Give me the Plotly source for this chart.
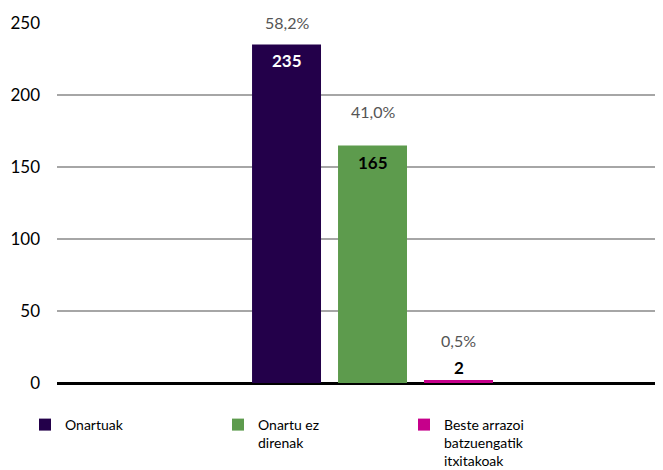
import plotly.graph_objects as go

categories = ["Onartuak", "Onartu ez direnak", "Beste arrazoi batzuengatik itxitakoak"]
legend_names = ["Onartuak", "Onartu ez<br>direnak", "Beste arrazoi<br>batzuengatik<br>itxitakoak"]
values = [235, 165, 2]
percent_labels = ["58,2%", "41,0%", "0,5%"]
value_labels = ["235", "165", "2"]
colors = ["#23004a", "#5d9b4d", "#c6008b"]

FONT = "Lato, 'Open Sans', sans-serif"

# page body adds an 8px margin; figure is sized to fill the rest of the window
W, H = 655, 462

legend_ids = ["legend", "legend2", "legend3"]
legend_x = [17, 210, 396]

fig = go.Figure()
for cat, name, val, col, lid in zip(categories, legend_names, values, colors, legend_ids):
    fig.add_trace(go.Bar(
        x=[cat], y=[val], name=name, marker=dict(color=col, line=dict(width=0)),
        hoverinfo="skip", legend=lid,
    ))

# styles for labels
pct_shift = [11, 22, 28]
val_shift = [-16, -17, 13]
val_colors = ["white", "black", "black"]
for cat, val, p, v, ps, vs, vc in zip(categories, values, percent_labels, value_labels,
                                      pct_shift, val_shift, val_colors):
    fig.add_annotation(x=cat, y=val, text=p, showarrow=False, yanchor="bottom",
                       yshift=ps, font=dict(family=FONT, size=16, color="#555555"))
    fig.add_annotation(x=cat, y=val, text="<b>" + v + "</b>", showarrow=False,
                       yanchor="middle", yshift=vs, font=dict(family=FONT, size=17, color=vc))

legend_style = dict(
    orientation="v", xref="container", yref="container",
    y=1 - 401 / H, xanchor="left", yanchor="top",
    font=dict(family=FONT, size=14, color="black"),
    valign="top", bgcolor="rgba(0,0,0,0)",
)
layout_legends = {lid: dict(legend_style, x=lx / W) for lid, lx in zip(legend_ids, legend_x)}

fig.update_layout(
    width=W, height=H,
    margin=dict(l=49, r=3, t=15, b=87, autoexpand=False),
    paper_bgcolor="white", plot_bgcolor="white",
    barmode="overlay",
    bargap=0.198,
    showlegend=True,
    font=dict(family=FONT),
    **layout_legends,
)
fig.update_xaxes(
    type="category", range=[-2.669, 4.343], showticklabels=False,
    showgrid=False, zeroline=False, showline=False, ticks="", automargin=False,
)
fig.update_yaxes(
    range=[0, 250], dtick=50, showgrid=True, gridcolor="#a6a6a6", gridwidth=1.5,
    zeroline=True, zerolinecolor="black", zerolinewidth=2.5,
    tickfont=dict(family=FONT, size=17, color="black"),
    ticklabelstandoff=16, ticks="", automargin=False,
)

fig.write_html("out.html")
